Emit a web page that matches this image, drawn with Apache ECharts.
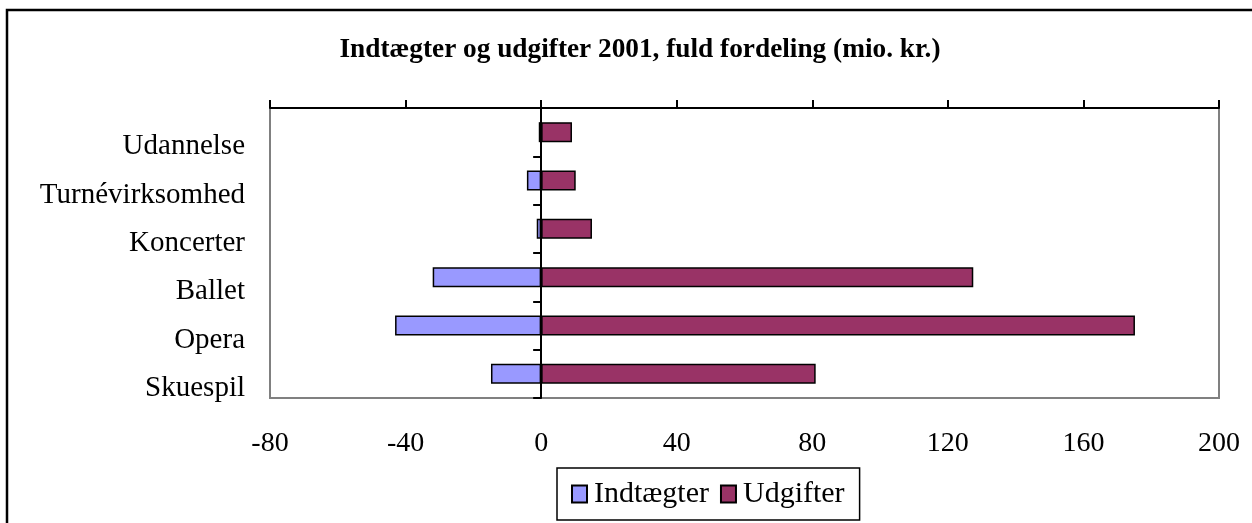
<!DOCTYPE html>
<html>
<head>
<meta charset="utf-8">
<script src="https://cdn.jsdelivr.net/npm/echarts@6/dist/echarts.min.js"></script>
<style>
  html, body { margin: 0; padding: 0; background: #fff; }
  #chart { width: 1252px; height: 523px; }
</style>
</head>
<body>
<div id="chart"></div>
<script>
// categories bottom -> top (category axis starts at the bottom)
const categories = ["Skuespil", "Opera", "Ballet", "Koncerter", "Turnévirksomhed", "Udannelse"];
const indtaegter = [-14.8, -43.1, -32.0, -1.3, -4.2, -0.7];
const udgifter = [81.0, 175.2, 127.5, 15.0, 10.2, 9.1];
const xTicks = { min: -80, max: 200, interval: 40 };

const serif = '"Liberation Serif", "Times New Roman", serif';

const chart = echarts.init(document.getElementById("chart"), null, { renderer: "canvas" });

chart.setOption({
  animation: false,
  backgroundColor: "#fff",
  title: {
    text: "Indtægter og udgifter 2001, fuld fordeling (mio. kr.)",
    left: 635,
    top: 31,
    textAlign: "center",
    textStyle: { fontFamily: serif, fontWeight: "bold", fontSize: 27.3, color: "#000" }
  },
  graphic: [{
    type: "rect",
    shape: { x: 7, y: 10, width: 1260, height: 530 },
    style: { fill: null, stroke: "#000", lineWidth: 2.5 },
    silent: true
  }],
  legend: {
    data: ["Indtægter", "Udgifter"],
    left: 557,
    top: 468,
    orient: "horizontal",
    itemWidth: 15,
    itemHeight: 17,
    itemGap: 11,
    padding: [11, 15, 11, 14],
    borderColor: "#000",
    borderWidth: 1.5,
    icon: "rect",
    textStyle: { fontFamily: serif, fontSize: 30, color: "#000", padding: [0, 0, 0, 2] }
  },
  grid: {
    left: 270, right: 33, top: 108, bottom: 125,
    show: true, borderColor: "#808080", borderWidth: 2, backgroundColor: "#fff"
  },
  xAxis: [{
    type: "value",
    position: "top",
    min: xTicks.min, max: xTicks.max, interval: xTicks.interval,
    axisLine: { show: true, lineStyle: { color: "#000", width: 2 } },
    axisTick: { show: true, length: 8, lineStyle: { color: "#000", width: 2 } },
    axisLabel: { show: false },
    splitLine: { show: false }
  }, {
    type: "value",
    position: "bottom",
    min: xTicks.min, max: xTicks.max, interval: xTicks.interval,
    axisLine: { show: false },
    axisTick: { show: false },
    axisLabel: { show: true, margin: 32, fontFamily: serif, fontSize: 28, color: "#000" },
    splitLine: { show: false }
  }],
  yAxis: [{
    type: "category",
    data: categories,
    position: "left",
    axisLine: { show: true, onZero: true, onZeroAxisIndex: 0, lineStyle: { color: "#000", width: 2 } },
    axisTick: { show: true, length: 8, lineStyle: { color: "#000", width: 2 } },
    axisLabel: { show: false },
    splitLine: { show: false }
  }, {
    type: "category",
    data: categories,
    position: "left",
    axisLine: { show: false, onZero: false },
    axisTick: { show: false },
    axisLabel: {
      show: true, margin: 25, fontFamily: serif, fontSize: 29, color: "#000",
      verticalAlign: "top"
    },
    splitLine: { show: false }
  }],
  series: [{
    name: "Indtægter",
    type: "bar",
    xAxisIndex: 0,
    yAxisIndex: 0,
    data: indtaegter,
    barWidth: 20,
    barGap: "-100%",
    itemStyle: { color: "#9999FF", borderColor: "#000", borderWidth: 1.5 }
  }, {
    name: "Udgifter",
    type: "bar",
    xAxisIndex: 0,
    yAxisIndex: 0,
    data: udgifter,
    barWidth: 20,
    barGap: "-100%",
    itemStyle: { color: "#993366", borderColor: "#000", borderWidth: 1.5 }
  }]
});
</script>
</body>
</html>
